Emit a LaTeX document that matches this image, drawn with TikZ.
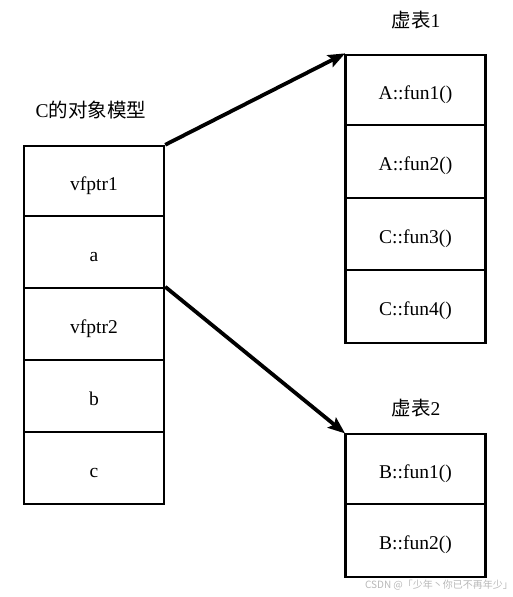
\documentclass[tikz,border=0pt]{standalone}
\usepackage{fontspec}
\setmainfont{Liberation Serif}
\newfontfamily\cjk{Noto Sans CJK SC}
\usetikzlibrary{arrows.meta}
\begin{document}
\begin{tikzpicture}[x=1pt,y=-1pt,
  cell/.style={draw=black, line width=2.4pt, minimum width=140pt, inner sep=0pt, text height=18pt, text depth=0pt, font=\fontsize{19.5}{22}\selectfont},
  ptr/.style={line width=3.8pt, -{Stealth[length=17pt,width=13pt,inset=3pt]}, shorten >=-1pt},
  title/.style={font=\fontsize{19.5}{22}\selectfont, inner sep=0pt}]
\useasboundingbox (0,0) rectangle (513,597);
% object model
\node[cell, minimum height=70pt] (v1) at (94,181) {vfptr1};
\node[cell, minimum height=72pt] (a) at (94,252) {a};
\node[cell, minimum height=72pt] (v2) at (94,324) {vfptr2};
\node[cell, minimum height=72pt] (b) at (94,396) {b};
\node[cell, minimum height=72pt] (c) at (94,468) {c};
\node[title] (t0) at (91,110) {C\cjk 的对象模型};
% vtable 1
\node[cell, minimum height=70pt] (f1) at (415.5,90) {A::fun1()};
\node[cell, minimum height=73pt] (f2) at (415.5,161.5) {A::fun2()};
\node[cell, minimum height=72pt] (f3) at (415.5,234) {C::fun3()};
\node[cell, minimum height=73pt] (f4) at (415.5,306.5) {C::fun4()};
\node[title] (t1) at (416,20) {\cjk 虚表\rmfamily 1};
% vtable 2
\node[cell, minimum height=70pt] (g1) at (415.5,469) {B::fun1()};
\node[cell, minimum height=73pt] (g2) at (415.5,540.5) {B::fun2()};
\node[title] (t2) at (416,408) {\cjk 虚表\rmfamily 2};
% pointers
\draw[ptr] (v1.north east) -- (f1.north west);
\draw[ptr] (v2.north east) -- (g1.north west);
% watermark
\node[font=\cjk\fontsize{10}{12}\selectfont, text=black!28, inner sep=0pt] (wm) at (439,585) {CSDN @「少年丶你已不再年少」};
\end{tikzpicture}
\end{document}
